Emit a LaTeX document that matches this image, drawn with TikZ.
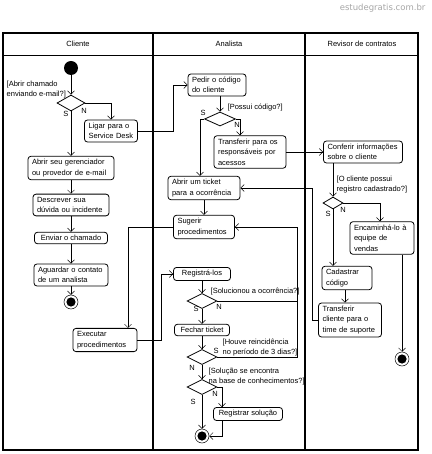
\documentclass[tikz,border=0pt]{standalone}
\usepackage{fontspec}
\setmainfont{Liberation Sans}
\newfontfamily\wmfont{DejaVu Sans}
\usetikzlibrary{shapes.geometric,arrows.meta,positioning}

\tikzset{
	act/.style={draw, line width=0.8pt, rounded corners=3pt, align=left, inner xsep=4pt, inner ysep=3pt, font=\fontsize{7.5}{10.5}\selectfont},
	dec/.style={draw, diamond, line width=0.8pt, minimum width=30pt, minimum height=15pt, inner sep=0pt},
	lbl/.style={font=\fontsize{7.5}{10}\selectfont, inner sep=0.5pt, align=left},
	flow/.style={line width=0.45pt, -{Straight Barb[length=3.5pt,width=7pt]}},
	startdot/.style={circle, fill=black, minimum size=14pt, inner sep=0pt},
	enddot/.style={circle, draw, line width=0.5pt, minimum size=14pt, inner sep=0pt,
		path picture={\fill (path picture bounding box.center) circle (4.6pt);}},
	lane/.style={line width=1.2pt},
}

\begin{document}
\begin{tikzpicture}[x=1pt,y=-1pt]
			\useasboundingbox (0,0) rectangle (431,454);

			% lanes
			\node[font=\wmfont\fontsize{8.5}{9}\selectfont,text=black!35,anchor=east] (site) at (429,8) {estudegratis.com.br};
			\draw[lane] (3,33) rectangle (418,450);
			\draw[lane] (153,33) -- (153,450);
			\draw[lane] (305,33) -- (305,450);
			\draw[line width=0.8pt] (3,55) -- (418,55);
			\node[lbl] (hcli) at (78,44) {Cliente};
			\node[lbl] (hana) at (229,44) {Analista};
			\node[lbl] (hrev) at (362,44) {Revisor de contratos};

			% Cliente
			\node[startdot] (start) at (71,68) {};
			\node[dec, minimum width=28pt, minimum height=16pt] (d1) at (71,103) {};
			\node[lbl, anchor=south west] (d1lbl) at (6,99) {[Abrir chamado\\enviando e-mail?]};
			\node[lbl] (d1s) at (66,114) {S};
			\node[lbl] (d1n) at (84,111) {N};
			\node[act, text width=45pt] (ligar) at (111,131) {Ligar para o\\Service Desk};
			\node[act, text width=78pt] (abrir) at (71,168) {Abrir seu gerenciador\\ou provedor de e-mail};
			\node[act, text width=68pt] (descr) at (71,205) {Descrever sua\\dúvida ou incidente};
			\node[act, align=center, minimum width=73pt] (enviar) at (71,238) {Enviar o chamado};
			\node[act, text width=66pt] (aguard) at (71,275) {Aguardar o contato\\de um analista};
			\node[enddot] (end1) at (71,302) {};
			\node[act, text width=56pt] (exec) at (105,340) {Executar\\procedimentos};

			% Analista
			\node[act, text width=50pt] (pedir) at (217,85) {Pedir o código\\do cliente};
			\node[dec, minimum width=31pt, minimum height=14pt] (d2) at (220,119) {};
			\node[lbl, anchor=west] (d2lbl) at (227,108) {[Possui código?]};
			\node[lbl] (d2s) at (203,113) {S};
			\node[lbl] (d2n) at (237,125) {N};
			\node[act, text width=64pt] (transf) at (250,152) {Transferir para os\\responsáveis por\\acessos};
			\node[act, text width=64pt] (ticket) at (204,188) {Abrir um ticket\\para a ocorrência};
			\node[act, text width=53pt] (suger) at (204,227) {Sugerir\\procedimentos};
			\node[act, align=center, minimum width=57pt] (regis) at (202,274) {Registrá-los};
			\node[dec] (d3) at (202,301) {};
			\node[lbl, anchor=west] (d3lbl) at (210,292) {[Solucionou a ocorrência?]};
			\node[lbl] (d3s) at (196,309) {S};
			\node[lbl] (d3n) at (219,307) {N};
			\node[act, align=center, minimum width=55pt] (fechar) at (202,330) {Fechar ticket};
			\node[dec] (d4) at (202,357) {};
			\node[lbl, anchor=west] (d4lbl) at (222,348) {[Houve reincidência\\no período de 3 dias?]};
			\node[lbl] (d4s) at (216,351) {S};
			\node[lbl] (d4n) at (192,368) {N};
			\node[dec] (d5) at (202,387) {};
			\node[lbl, anchor=west] (d5lbl) at (208,377) {[Solução se encontra\\na base de conhecimentos?]};
			\node[lbl] (d5s) at (193,402) {S};
			\node[lbl] (d5n) at (215,394) {N};
			\node[act, align=center, minimum width=69pt] (regsol) at (248,414) {Registrar solução};
			\node[enddot] (end2) at (202,436) {};
			\coordinate (back) at (297,0);

			% Revisor de contratos
			\node[act, text width=71pt] (confer) at (363,152) {Conferir informações\\sobre o cliente};
			\node[dec, minimum width=20pt, minimum height=12pt] (d6) at (333,203) {};
			\node[lbl, anchor=west] (d6lbl) at (336,185) {[O cliente possui\\registro cadastrado?]};
			\node[lbl] (d6s) at (328,214) {S};
			\node[lbl] (d6n) at (343,210) {N};
			\node[act, text width=56pt] (encam) at (382,238) {Encaminhá-lo à\\equipe de\\vendas};
			\node[act, text width=42pt] (cadast) at (347,278) {Cadastrar\\código};
			\node[act, text width=55pt] (transcl) at (350,320) {Transferir\\cliente para o\\time de suporte};
			\node[enddot] (end3) at (402,359) {};

			% Cliente flows
			\draw[flow] (start) -- (d1);
			\draw[flow] (d1.south) -- (abrir.north -| d1);
			\draw[flow] (d1.east) -| (ligar.north);
			\draw[flow] (ligar.east) -- ++(35,0) |- (pedir.west);
			\draw[flow] (abrir) -- (descr);
			\draw[flow] (descr) -- (enviar);
			\draw[flow] (enviar) -- (aguard);
			\draw[flow] (aguard) -- (end1);

			% Analista flows
			\draw[flow] (pedir.south -| d2) -- (d2.north);
			\draw[flow] (d2.west) -| ([xshift=-4pt]ticket.north);
			\draw[flow] (d2.east) -| ([xshift=-10pt]transf.north);
			\draw[flow] (transf.east) -- (confer.west);
			\draw[flow] (ticket) -- (suger);
			\draw[flow] (suger.west) -| ([xshift=23pt]exec.north);
			\draw[flow] (exec.east) -- ++(24,0) |- (regis.west);
			\draw[flow] (regis) -- (d3);
			\draw[flow] (d3) -- (fechar);
			\draw[line width=0.45pt] (d3.east) -- (d3.east -| back);
			\draw[flow] (d4.east) -| (back |- suger.east) -- (suger.east);
			\draw[flow] (fechar) -- (d4);
			\draw[flow] (d4) -- (d5);
			\draw[flow] (d5) -- (end2);
			\draw[flow] (d5.east) -| ([xshift=-26pt]regsol.north);
			\draw[flow] ([xshift=-26pt]regsol.south) |- (end2.east);

			% Revisor flows
			\draw[flow] (confer.south -| d6) -- (d6.north);
			\draw[flow] (d6.south) -- (d6.south |- cadast.north);
			\draw[flow] (d6.east) -| ([xshift=-2pt]encam.north);
			\draw[flow] (encam.south -| end3) -- (end3);
			\draw[flow] ([xshift=-2pt]cadast.south) -- ([xshift=-2pt]cadast.south |- transcl.north);
			\draw[flow] (transcl.west) -- ++(-6,0) |- (ticket.east);
\end{tikzpicture}
\end{document}
